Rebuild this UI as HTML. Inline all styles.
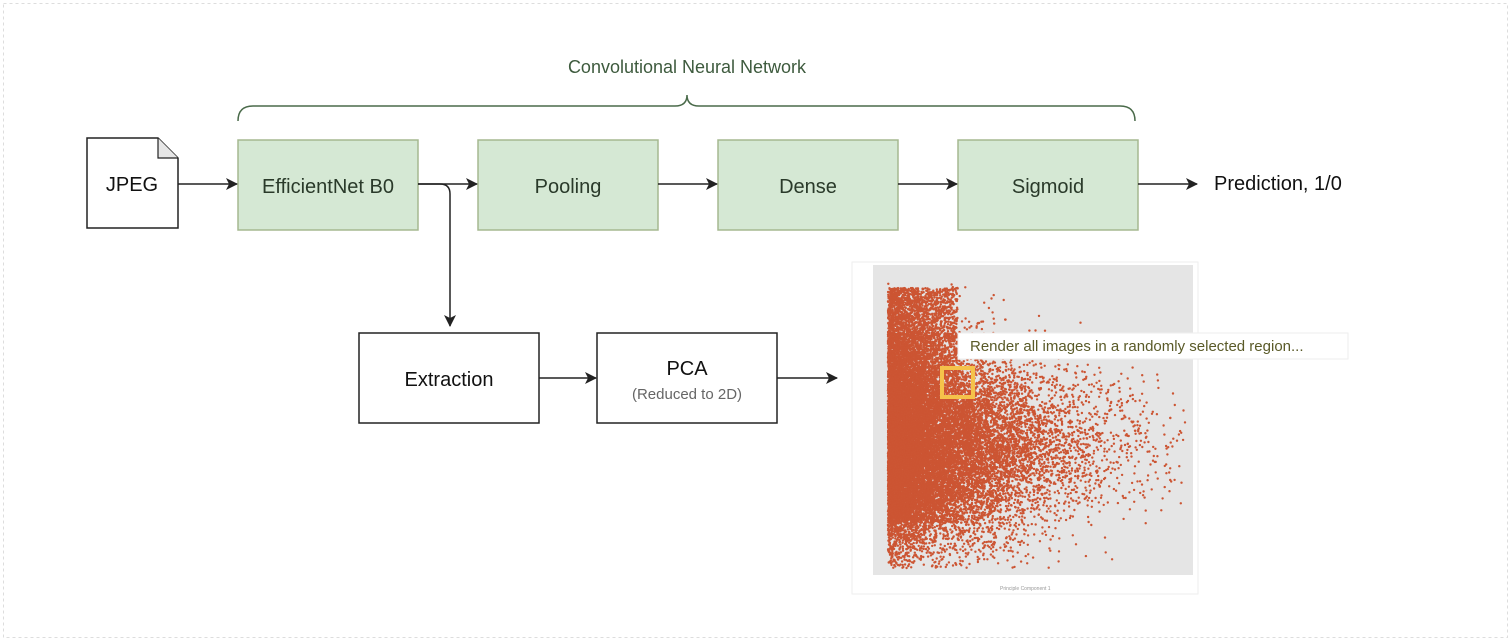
<!DOCTYPE html>
<html><head><meta charset="utf-8"><style>
body{margin:0;background:#fff;}
svg{display:block;font-family:"Liberation Sans",sans-serif;}
</style></head><body>
<svg id="s" width="1511" height="642" viewBox="0 0 1511 642" xmlns="http://www.w3.org/2000/svg">
<defs><marker id="a" markerWidth="12" markerHeight="12" refX="11" refY="6" orient="auto" markerUnits="userSpaceOnUse"><path d="M0,0 L12,6 L0,12 L3,6 z" fill="#222"/></marker></defs>
<rect x="3.5" y="3.5" width="1504" height="634" fill="none" stroke="#ddd" stroke-dasharray="3,3"/>
<text x="687" y="73" text-anchor="middle" font-size="18" fill="#3d5a3d">Convolutional Neural Network</text>
<path d="M238,121 Q238,106 253,106 L675,106 Q687,106 687,95 Q687,106 699,106 L1120,106 Q1135,106 1135,121" fill="none" stroke="#4a6a4a" stroke-width="1.5"/>
<path d="M87,138 L158,138 L178,158 L178,228 L87,228 Z" fill="#fff" stroke="#222" stroke-width="1.5"/>
<path d="M158,138 L158,158 L178,158" fill="#e6e6e6" stroke="#222" stroke-width="1.2"/>
<text x="132" y="191" text-anchor="middle" font-size="20" fill="#111">JPEG</text>
<g fill="#d5e8d4" stroke="#a5b890" stroke-width="1.5">
<rect x="238" y="140" width="180" height="90"/><rect x="478" y="140" width="180" height="90"/>
<rect x="718" y="140" width="180" height="90"/><rect x="958" y="140" width="180" height="90"/></g>
<g font-size="20" fill="#2a3a2a" text-anchor="middle">
<text x="328" y="193">EfficientNet B0</text><text x="568" y="193">Pooling</text>
<text x="808" y="193">Dense</text><text x="1048" y="193">Sigmoid</text></g>
<g stroke="#222" stroke-width="1.5" fill="none" marker-end="url(#a)">
<line x1="178" y1="184" x2="237" y2="184"/><line x1="418" y1="184" x2="477" y2="184"/>
<line x1="658" y1="184" x2="717" y2="184"/><line x1="898" y1="184" x2="957" y2="184"/>
<line x1="1138" y1="184" x2="1197" y2="184"/>
<path d="M418,184 L440,184 Q450,184 450,194 L450,326"/>
<line x1="539" y1="378" x2="596" y2="378"/><line x1="777" y1="378" x2="837" y2="378"/></g>
<text x="1214" y="190" font-size="20" fill="#111">Prediction, 1/0</text>
<rect x="359" y="333" width="180" height="90" fill="#fff" stroke="#222" stroke-width="1.5"/>
<text x="449" y="386" text-anchor="middle" font-size="20" fill="#111">Extraction</text>
<rect x="597" y="333" width="180" height="90" fill="#fff" stroke="#222" stroke-width="1.5"/>
<text x="687" y="375" text-anchor="middle" font-size="20" fill="#111">PCA</text>
<text x="687" y="399" text-anchor="middle" font-size="15" fill="#666">(Reduced to 2D)</text>
<rect x="852" y="262" width="346" height="332" fill="#fff" stroke="#eee"/>
<rect x="873" y="265" width="320" height="310" fill="#e5e5e5"/>
<g id="dots" fill="#cc5533"></g>
<g font-size="5" fill="#999"><text x="1000" y="590">Principle Component 1</text></g>
<rect x="942" y="368" width="31" height="29" fill="none" stroke="#f5c24a" stroke-width="4"/>
<rect x="958" y="333" width="390" height="26" fill="#fff" stroke="#eee"/>
<text x="970" y="351" font-size="15" fill="#5a5a28">Render all images in a randomly selected region...</text>
</svg>
<script>
(function(){var g=document.getElementById('dots'),s=7,h='';
function r(){s=(s*16807)%2147483647;return s/2147483647;}
function n(){return Math.sqrt(-2*Math.log(r()+1e-9))*Math.cos(6.283*r());}
for(var i=0;i<22000;i++){var d=-Math.log(r()+1e-9)*50;var x=888+d;var y;
if(d<70&&r()<0.45)y=288+r()*235;else y=445+n()*(55-d*0.08);
if(y<283||y>568||x>1185)continue;
h+='<circle cx="'+x.toFixed(1)+'" cy="'+y.toFixed(1)+'" r="1.2"/>';}
g.innerHTML=h;})();
</script>
</body></html>
